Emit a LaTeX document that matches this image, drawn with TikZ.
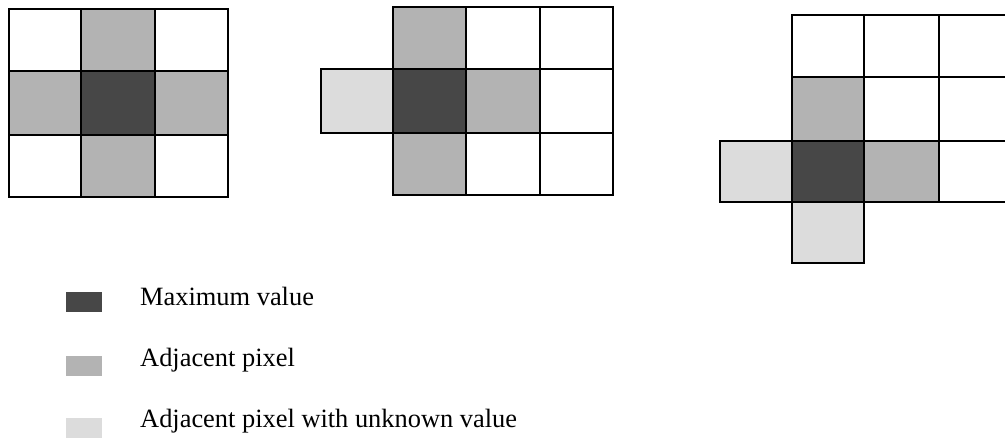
\documentclass[tikz,border=0pt]{standalone}
\usepackage{fontspec}
\setmainfont{Liberation Serif}
\definecolor{cdark}{HTML}{474747}
\definecolor{cmid}{HTML}{B3B3B3}
\definecolor{clight}{HTML}{DCDCDC}
\newcommand\pxcell[5]{\draw[cellbox,fill=#5] (#1,#2) rectangle (#3,#4);}
\begin{document}
\begin{tikzpicture}[x=1pt,y=-1pt,
  cellbox/.style={draw=black,line width=1.8pt,line join=miter},
  swatch/.style={draw=none},
  legendtext/.style={anchor=base west,inner sep=0pt,font=\fontsize{26.4}{30}\selectfont}]
\useasboundingbox (0,0) rectangle (1005,437);
\clip (0,0) rectangle (1005,437);
\fill[white] (0,0) rectangle (1005,437);
% Grid 1
\pxcell{9}{9}{81}{71}{white}
\pxcell{81}{9}{155}{71}{cmid}
\pxcell{155}{9}{228}{71}{white}
\pxcell{9}{71}{81}{135}{cmid}
\pxcell{81}{71}{155}{135}{cdark}
\pxcell{155}{71}{228}{135}{cmid}
\pxcell{9}{135}{81}{197}{white}
\pxcell{81}{135}{155}{197}{cmid}
\pxcell{155}{135}{228}{197}{white}
% Grid 2
\pxcell{393}{7}{466}{69}{cmid}
\pxcell{466}{7}{540}{69}{white}
\pxcell{540}{7}{613}{69}{white}
\pxcell{321}{69}{393}{133}{clight}
\pxcell{393}{69}{466}{133}{cdark}
\pxcell{466}{69}{540}{133}{cmid}
\pxcell{540}{69}{613}{133}{white}
\pxcell{393}{133}{466}{195}{cmid}
\pxcell{466}{133}{540}{195}{white}
\pxcell{540}{133}{613}{195}{white}
% Grid 3
\pxcell{792}{15}{864}{77}{white}
\pxcell{864}{15}{939}{77}{white}
\pxcell{939}{15}{1012}{77}{white}
\pxcell{792}{77}{864}{141}{cmid}
\pxcell{864}{77}{939}{141}{white}
\pxcell{939}{77}{1012}{141}{white}
\pxcell{720}{141}{792}{202}{clight}
\pxcell{792}{141}{864}{202}{cdark}
\pxcell{864}{141}{939}{202}{cmid}
\pxcell{939}{141}{1012}{202}{white}
\pxcell{792}{202}{864}{263}{clight}
% Legend
\fill[cdark] (66,292) rectangle (102,312);
\fill[cmid] (66,356) rectangle (102,376);
\fill[clight] (66,418) rectangle (102,440);
\node[legendtext] (lmax) at (140,305) {Maximum value};
\node[legendtext] (ladj) at (140,366) {Adjacent pixel};
\node[legendtext] (lunk) at (140,427) {Adjacent pixel with unknown value};
\end{tikzpicture}
\end{document}
